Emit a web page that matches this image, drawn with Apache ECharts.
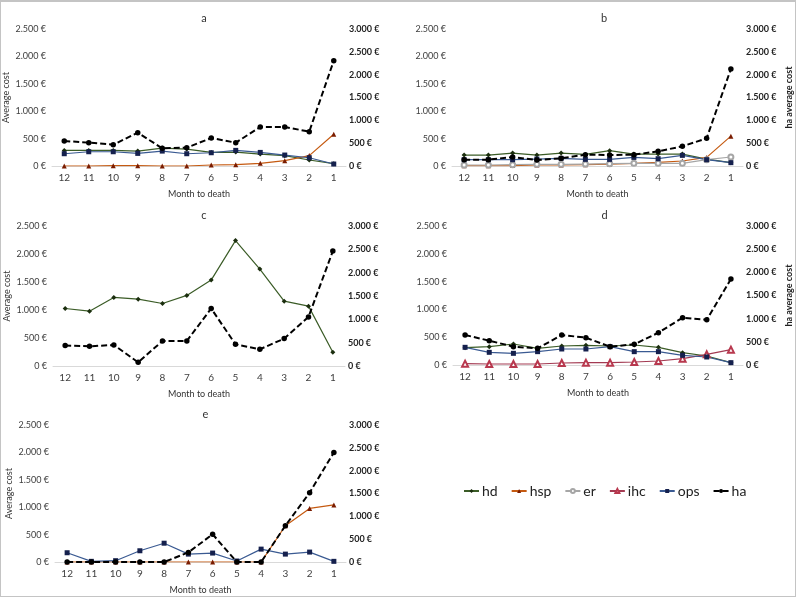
<!DOCTYPE html>
<html>
<head>
<meta charset="utf-8">
<script src="https://cdn.jsdelivr.net/npm/echarts@6/dist/echarts.min.js"></script>
<style>
  html, body { margin: 0; padding: 0; background: #fff; }
  #main { width: 796px; height: 597px; box-sizing: border-box; border: 1px solid #c4c4c4; border-top-width: 2px; }
</style>
</head>
<body>
<div id="main"></div>
<script>
const months = ['12', '11', '10', '9', '8', '7', '6', '5', '4', '3', '2', '1']
const panelTitles = ['a', 'b', 'c', 'd', 'e']

// panel a
const aHd = [285, 285, 285, 272, 327, 309, 248, 254, 218, 188, 109, 42]
const aHsp = [0, 0, 6, 6, 0, 0, 18, 24, 48, 97, 190, 578]
const aOps = [224, 260, 260, 230, 272, 224, 242, 285, 248, 200, 151, 36]
const aHa = [548, 511, 467, 730, 387, 402, 613, 511, 854, 854, 752, 2306]

// panel b
const bHd = [200, 200, 236, 200, 236, 212, 279, 218, 218, 218, 127, 60]
const bHsp = [5, 5, 8, 18, 18, 24, 36, 48, 67, 91, 157, 545]
const bEr = [18, 18, 24, 30, 30, 36, 42, 48, 48, 48, 115, 164]
const bOps = [115, 115, 115, 127, 139, 121, 121, 157, 133, 194, 115, 61]
const bHa = [139, 139, 197, 131, 168, 248, 241, 248, 321, 431, 606, 2124]

// panel c
const cHd = [1027, 979, 1224, 1194, 1116, 1260, 1534, 2239, 1731, 1158, 1069, 245]
const cHa = [437, 422, 451, 79, 537, 537, 1232, 465, 358, 587, 1052, 2463]

// panel d
const dHd = [312, 330, 378, 300, 342, 354, 342, 360, 318, 222, 162, 42]
const dIhc = [24, 18, 18, 18, 36, 42, 42, 54, 72, 114, 192, 276]
const dOps = [318, 228, 210, 240, 288, 288, 330, 240, 240, 174, 144, 42]
const dHa = [647, 525, 395, 360, 647, 590, 395, 446, 697, 1021, 978, 1855]

// panel e
const eHsp = [0, 0, 0, 0, 0, 0, 0, 0, 0, 662, 978, 1041]
const eOps = [169, 12, 24, 205, 343, 144, 163, 18, 235, 144, 181, 12]
const eHa = [0, 0, 0, 0, 0, 210, 607, 0, 0, 795, 1518, 2400]

const panels = [
  { hd: aHd, hsp: aHsp, ops: aOps, ha: aHa, leftName: 'Average cost' },
  { hd: bHd, hsp: bHsp, er: bEr, ops: bOps, ha: bHa, rightName: 'ha average cost' },
  { hd: cHd, ha: cHa, leftName: 'Average cost' },
  { hd: dHd, ihc: dIhc, ops: dOps, ha: dHa, rightName: 'ha average cost' },
  { hsp: eHsp, ops: eOps, ha: eHa, leftName: 'Average cost' }
]

const grids = [
  { left: 51, top: 27, width: 294, height: 137 },
  { left: 451, top: 27, width: 294, height: 137 },
  { left: 52, top: 224, width: 292, height: 140 },
  { left: 452, top: 224, width: 293, height: 139 },
  { left: 54, top: 423, width: 291, height: 139 }
]

const styles = {
  hd: { line: '#3b5c27', item: '#1b2e0e', symbol: 'diamond', size: 5 },
  hsp: { line: '#c55a11', item: '#7a1c00', symbol: 'triangle', size: 5 },
  er: { line: '#a6a6a6', item: '#a6a6a6', symbol: 'emptyCircle', size: 5 },
  ihc: { line: '#a33a52', item: '#b8384e', symbol: 'emptyTriangle', size: 6 },
  ops: { line: '#3a5a92', item: '#15204d', symbol: 'rect', size: 5 },
  ha: { line: '#000', item: '#000', symbol: 'circle', size: 5.5 }
}
const order = ['hd', 'hsp', 'er', 'ihc', 'ops', 'ha']

const fmt = v => String(v).replace(/\B(?=(\d{3})+(?!\d))/g, '.') + ' €'
const font = 'Lato, "Open Sans", sans-serif'

const title = []
const xAxis = []
const yAxis = []
const series = []

panels.forEach((p, i) => {
  const g = grids[i]
  title.push({
    text: panelTitles[i],
    left: g.left + g.width / 2,
    top: g.top - 21,
    textAlign: 'center',
    textStyle: { fontSize: 11, fontWeight: 'normal', color: '#333', fontFamily: font }
  })
  xAxis.push({
    type: 'category',
    gridIndex: i,
    data: months,
    name: 'Month to death',
    nameLocation: 'middle',
    nameGap: 24,
    nameTextStyle: { fontSize: 9, color: '#333', fontFamily: font },
    axisLine: { lineStyle: { color: '#d9d9d9' } },
    axisTick: { show: false },
    axisLabel: { fontSize: 10, color: '#404040', margin: 7, fontFamily: font }
  })
  yAxis.push({
    type: 'value',
    gridIndex: i,
    min: 0, max: 2500, interval: 500,
    name: p.leftName || '',
    nameLocation: 'middle',
    nameGap: 41,
    nameTextStyle: { fontSize: 9, color: '#333', fontFamily: font },
    splitLine: { show: false },
    axisLine: { show: false },
    axisTick: { show: false },
    axisLabel: { fontSize: 9, color: '#404040', margin: 6, formatter: fmt, fontFamily: font }
  })
  yAxis.push({
    type: 'value',
    gridIndex: i,
    position: 'right',
    min: 0, max: 3000, interval: 500,
    name: p.rightName || '',
    nameLocation: 'middle',
    nameGap: 42,
    nameTextStyle: { fontSize: 9, color: '#222', fontWeight: 'bold', fontFamily: font },
    splitLine: { show: false },
    axisLine: { show: false },
    axisTick: { show: false },
    axisLabel: { fontSize: 9, color: '#222', fontWeight: 'bold', margin: 3, formatter: fmt, fontFamily: font }
  })
  order.forEach(key => {
    if (!p[key]) return
    const s = styles[key]
    const isHa = key === 'ha'
    series.push({
      name: key,
      type: 'line',
      xAxisIndex: i,
      yAxisIndex: isHa ? 2 * i + 1 : 2 * i,
      data: p[key],
      symbol: s.symbol,
      symbolSize: s.size,
      showAllSymbol: true,
      animation: false,
      z: isHa ? 5 : 2,
      lineStyle: { color: s.line, width: isHa ? 2 : 1.2, type: isHa ? [6, 3] : 'solid' },
      itemStyle: { color: s.item, borderColor: s.item, borderWidth: s.symbol.startsWith('empty') ? 1 : 0 }
    })
  })
})

const myChart = echarts.init(document.getElementById('main'))
myChart.setOption({
  title,
  grid: grids,
  xAxis,
  yAxis,
  series,
  legend: {
    data: order,
    left: 457,
    top: 477,
    itemWidth: 15,
    itemHeight: 5,
    itemGap: 13,
    textStyle: { fontSize: 14, color: '#222', fontFamily: font, padding: [0, 0, 0, -2] }
  }
})
</script>
</body>
</html>
